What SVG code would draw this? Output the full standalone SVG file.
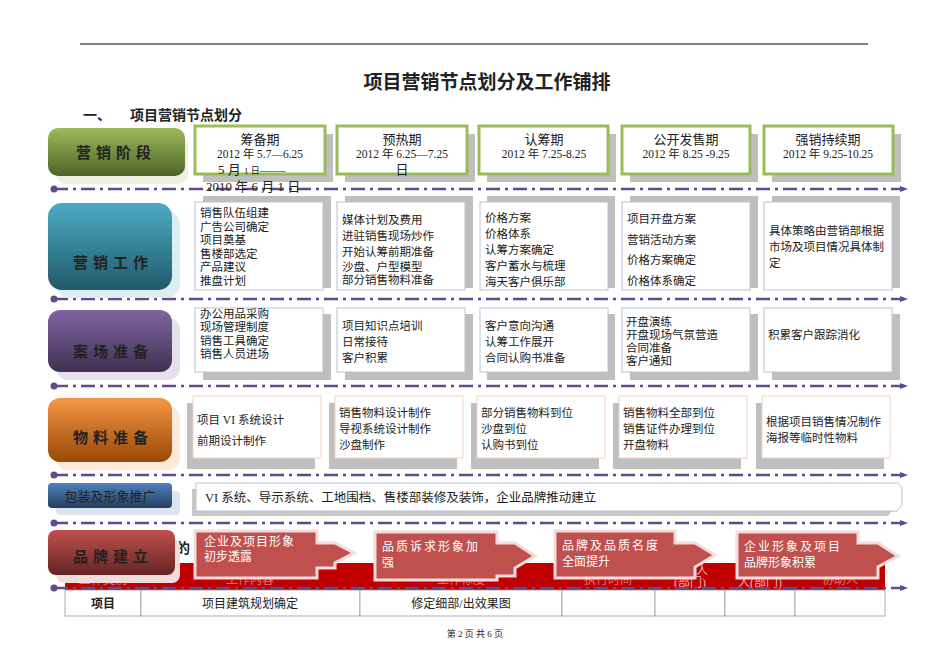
<svg xmlns="http://www.w3.org/2000/svg" width="950" height="672" viewBox="0 0 950 672">
<defs>
<style>
text{font-family:"Liberation Serif","Noto Sans CJK SC",serif;fill:#222}
.t{font-size:11.5px}
.lab{font-size:15px;font-weight:bold;letter-spacing:5px;text-anchor:middle}
.stage{fill:#fff;stroke:#9bbb59;stroke-width:3}
.sh{fill:#bfbfbf}
.box{fill:#fff;stroke:#b8c4d8;stroke-width:1}
.box2{fill:#fff;stroke:#f2d2c0;stroke-width:1}
.dl{stroke:#5f4b8b;stroke-width:2.5;stroke-dasharray:14 5 3 5;fill:none}
.ar{fill:#c0504d;stroke:#f2dcdb;stroke-width:3}
.cell{fill:#fff;stroke:#999;stroke-width:0.8}
.hd{font-size:12px;text-anchor:middle;fill:#e57373}
.bw{font-size:12px;fill:#fff}
</style>
<linearGradient id="g1" x1="0" y1="0" x2="0" y2="1"><stop offset="0" stop-color="#9bbb59"/><stop offset="1" stop-color="#4f6228"/></linearGradient>
<linearGradient id="g2" x1="0" y1="0" x2="0" y2="1"><stop offset="0" stop-color="#4bacc6"/><stop offset="1" stop-color="#215968"/></linearGradient>
<linearGradient id="g3" x1="0" y1="0" x2="0" y2="1"><stop offset="0" stop-color="#8064a2"/><stop offset="1" stop-color="#3f3151"/></linearGradient>
<linearGradient id="g4" x1="0" y1="0" x2="0" y2="1"><stop offset="0" stop-color="#f79646"/><stop offset="1" stop-color="#984807"/></linearGradient>
<linearGradient id="g5" x1="0" y1="0" x2="0" y2="1"><stop offset="0" stop-color="#4f81bd"/><stop offset="1" stop-color="#243f60"/></linearGradient>
<linearGradient id="g6" x1="0" y1="0" x2="0" y2="1"><stop offset="0" stop-color="#c0504d"/><stop offset="1" stop-color="#632523"/></linearGradient>
<marker id="m" markerUnits="userSpaceOnUse" markerWidth="8" markerHeight="8" refX="4" refY="4" orient="auto"><path d="M0,1L8,4L0,7z" fill="#5f4b8b"/></marker>
<marker id="d" markerUnits="userSpaceOnUse" markerWidth="8" markerHeight="8" refX="4" refY="4"><circle cx="4" cy="4" r="3.5" fill="#5f4b8b"/></marker>
</defs>
<rect width="950" height="672" fill="#fff"/>
<line x1="80" y1="44" x2="868" y2="44" stroke="#000" stroke-width="1"/>
<text x="487" y="89" font-size="19" font-weight="bold" text-anchor="middle">项目营销节点划分及工作铺排</text>
<text x="83" y="120" font-size="14" font-weight="bold">一、</text>
<text x="130" y="120" font-size="14" font-weight="bold">项目营销节点划分</text>

<g id="table">
<rect x="65" y="563" width="820" height="27" fill="#c00000"/>
<text class="hd" x="103" y="584">工作类别</text>
<text class="hd" x="250" y="584">工作内容</text>
<text class="hd" x="461" y="584">工作标度</text>
<text class="hd" x="608" y="584">执行时间</text>
<text class="hd" x="690" y="575" font-size="10" style="fill:#f4b0b0">负责人</text>
<text class="hd" x="690" y="587" font-size="10" style="fill:#f4b0b0">(部门)</text>
<text class="hd" x="760" y="587" font-size="10" style="fill:#f4b0b0">人(部门)</text>
<text class="hd" x="840" y="584">协助人</text>
<rect class="cell" x="65" y="590" width="76" height="26"/>
<rect class="cell" x="141" y="590" width="219" height="26"/>
<rect class="cell" x="360" y="590" width="202" height="26"/>
<rect class="cell" x="562" y="590" width="93" height="26"/>
<rect class="cell" x="655" y="590" width="70" height="26"/>
<rect class="cell" x="725" y="590" width="70" height="26"/>
<rect class="cell" x="795" y="590" width="90" height="26"/>
<text x="103" y="608" font-size="12" font-weight="bold" text-anchor="middle">项目</text>
<text x="250" y="608" font-size="12" text-anchor="middle">项目建筑规划确定</text>
<text x="461" y="608" font-size="12" text-anchor="middle">修定细部/出效果图</text>
</g>
<text x="176" y="553" font-size="14" font-weight="bold">的</text>

<g id="connectors">
<line class="dl" x1="54" y1="189" x2="904" y2="189" marker-start="url(#d)" marker-end="url(#m)"/>
<line class="dl" x1="54" y1="299" x2="904" y2="299" marker-start="url(#d)" marker-end="url(#m)"/>
<line class="dl" x1="54" y1="386" x2="904" y2="386" marker-start="url(#d)" marker-end="url(#m)"/>
<line class="dl" x1="54" y1="475" x2="904" y2="475" marker-start="url(#d)" marker-end="url(#m)"/>
<line class="dl" x1="54" y1="523" x2="904" y2="523" marker-start="url(#d)" marker-end="url(#m)"/>
<line class="dl" x1="54" y1="588" x2="904" y2="588" marker-start="url(#d)" marker-end="url(#m)"/>
</g>

<g id="l1"><rect x="56" y="136" width="132" height="48" rx="10" fill="#ebf1de"/><rect x="48" y="128" width="137" height="48" rx="10" fill="url(#g1)"/><text class="lab" x="116" y="158">营销阶段</text></g>
<g id="l2"><rect x="56" y="211" width="124" height="87" rx="14" fill="#daeef3"/><rect x="48" y="203" width="124" height="87" rx="14" fill="url(#g2)"/><text class="lab" x="113" y="268">营销工作</text></g>
<g id="l3"><rect x="56" y="318" width="124" height="62" rx="12" fill="#e5e0ec"/><rect x="48" y="310" width="124" height="62" rx="12" fill="url(#g3)"/><text class="lab" x="113" y="357">案场准备</text></g>
<g id="l4"><rect x="56" y="406" width="124" height="64" rx="12" fill="#fde9d9"/><rect x="48" y="398" width="124" height="64" rx="12" fill="url(#g4)"/><text class="lab" x="113" y="443">物料准备</text></g>
<g id="l5"><rect x="56" y="491" width="124" height="24" rx="4" fill="#dbe5f1"/><rect x="48" y="483" width="124" height="25" rx="4" fill="url(#g5)"/><text x="110" y="501" font-size="13" text-anchor="middle">包装及形象推广</text></g>
<g id="l6"><rect x="56" y="538" width="124" height="45" rx="8" fill="#f2dcdb"/><rect x="48" y="530" width="127" height="45" rx="8" fill="url(#g6)"/><text class="lab" x="113" y="562">品牌建立</text></g>

<g id="s1"><rect class="sh" x="203" y="134" width="130" height="48"/><rect class="stage" x="195" y="126" width="130" height="48"/><text x="260" y="144" font-size="13" text-anchor="middle">筹备期</text><text class="t" x="260" y="158" text-anchor="middle">2012 年 5.7—6.25</text>
<text x="218" y="174" font-size="13">5 月 <tspan font-size="9">1 日</tspan>——</text><text x="206" y="191" font-size="13">2010 年 6 月 1 日</text></g>
<g id="s2"><rect class="sh" x="345" y="134" width="130" height="48"/><rect class="stage" x="337" y="126" width="130" height="48"/><text x="402" y="144" font-size="13" text-anchor="middle">预热期</text><text class="t" x="402" y="158" text-anchor="middle">2012 年 6.25—7.25</text><text x="402" y="174" font-size="13" text-anchor="middle">日</text></g>
<g id="s3"><rect class="sh" x="487" y="134" width="129" height="48"/><rect class="stage" x="479" y="126" width="129" height="48"/><text x="544" y="144" font-size="13" text-anchor="middle">认筹期</text><text class="t" x="544" y="158" text-anchor="middle">2012 年 7.25-8.25</text></g>
<g id="s4"><rect class="sh" x="630" y="134" width="128" height="48"/><rect class="stage" x="622" y="126" width="128" height="48"/><text x="686" y="144" font-size="13" text-anchor="middle">公开发售期</text><text class="t" x="686" y="158" text-anchor="middle">2012 年 8.25 -9.25</text></g>
<g id="s5"><rect class="sh" x="772" y="134" width="129" height="48"/><rect class="stage" x="764" y="126" width="129" height="48"/><text x="828" y="144" font-size="13" text-anchor="middle">强销持续期</text><text class="t" x="828" y="158" text-anchor="middle">2012 年 9.25-10.25</text></g>

<g id="w1"><rect class="sh" x="203" y="196" width="128" height="92"/><rect class="box" x="195" y="202" width="128" height="88"/><text class="t" x="200" y="217">销售队伍组建</text><text class="t" x="200" y="231">广告公司确定</text><text class="t" x="200" y="244">项目奠基</text><text class="t" x="200" y="258">售楼部选定</text><text class="t" x="200" y="271">产品建议</text><text class="t" x="200" y="285">推盘计划</text></g>
<g id="w2"><rect class="sh" x="345" y="196" width="128" height="92"/><rect class="box" x="337" y="202" width="128" height="88"/><text class="t" x="342" y="224">媒体计划及费用</text><text class="t" x="342" y="240">进驻销售现场炒作</text><text class="t" x="342" y="256">开始认筹前期准备</text><text class="t" x="342" y="271">沙盘、户型模型</text><text class="t" x="342" y="284">部分销售物料准备</text></g>
<g id="w3"><rect class="sh" x="487" y="196" width="128" height="92"/><rect class="box" x="480" y="202" width="128" height="88"/><text class="t" x="485" y="222">价格方案</text><text class="t" x="485" y="238">价格体系</text><text class="t" x="485" y="254">认筹方案确定</text><text class="t" x="485" y="270">客户蓄水与梳理</text><text class="t" x="485" y="286">海天客户俱乐部</text></g>
<g id="w4"><rect class="sh" x="630" y="196" width="128" height="92"/><rect class="box" x="622" y="202" width="128" height="88"/><text class="t" x="627" y="223">项目开盘方案</text><text class="t" x="627" y="244">营销活动方案</text><text class="t" x="627" y="264">价格方案确定</text><text class="t" x="627" y="285">价格体系确定</text></g>
<g id="w5"><rect class="sh" x="772" y="196" width="128" height="92"/><rect class="box" x="764" y="202" width="128" height="88"/><text class="t" x="769" y="235">具体策略由营销部根据</text><text class="t" x="769" y="251">市场及项目情况具体制</text><text class="t" x="769" y="267">定</text></g>

<g id="c1"><rect class="sh" x="203" y="314" width="128" height="66"/><rect class="box" x="195" y="308" width="128" height="64"/><text class="t" x="200" y="318">办公用品采购</text><text class="t" x="200" y="331">现场管理制度</text><text class="t" x="200" y="345">销售工具确定</text><text class="t" x="200" y="358">销售人员进场</text></g>
<g id="c2"><rect class="sh" x="345" y="314" width="128" height="66"/><rect class="box" x="337" y="308" width="128" height="64"/><text class="t" x="342" y="330">项目知识点培训</text><text class="t" x="342" y="346">日常接待</text><text class="t" x="342" y="362">客户积累</text></g>
<g id="c3"><rect class="sh" x="487" y="314" width="128" height="66"/><rect class="box" x="480" y="308" width="128" height="64"/><text class="t" x="485" y="330">客户意向沟通</text><text class="t" x="485" y="346">认筹工作展开</text><text class="t" x="485" y="362">合同认购书准备</text></g>
<g id="c4"><rect class="sh" x="630" y="314" width="128" height="66"/><rect class="box" x="622" y="308" width="128" height="64"/><text class="t" x="626" y="326">开盘演练</text><text class="t" x="626" y="339">开盘现场气氛营造</text><text class="t" x="626" y="352">合同准备</text><text class="t" x="626" y="365">客户通知</text></g>
<g id="c5"><rect class="sh" x="772" y="314" width="128" height="66"/><rect class="box" x="764" y="308" width="128" height="64"/><text class="t" x="768" y="339">积累客户跟踪消化</text></g>

<g id="m1"><rect class="sh" x="187" y="403" width="128" height="66"/><rect class="box2" x="193" y="396" width="128" height="62"/><text class="t" x="197" y="424">项目 VI 系统设计</text><text class="t" x="197" y="445">前期设计制作</text></g>
<g id="m2"><rect class="sh" x="329" y="403" width="128" height="66"/><rect class="box2" x="335" y="396" width="128" height="62"/><text class="t" x="339" y="417">销售物料设计制作</text><text class="t" x="339" y="433">导视系统设计制作</text><text class="t" x="339" y="449">沙盘制作</text></g>
<g id="m3"><rect class="sh" x="471" y="403" width="128" height="66"/><rect class="box2" x="477" y="396" width="128" height="62"/><text class="t" x="481" y="417">部分销售物料到位</text><text class="t" x="481" y="433">沙盘到位</text><text class="t" x="481" y="449">认购书到位</text></g>
<g id="m4"><rect class="sh" x="613" y="403" width="128" height="66"/><rect class="box2" x="619" y="396" width="128" height="62"/><text class="t" x="623" y="417">销售物料全部到位</text><text class="t" x="623" y="433">销售证件办理到位</text><text class="t" x="623" y="449">开盘物料</text></g>
<g id="m5"><rect class="sh" x="756" y="403" width="128" height="66"/><rect class="box2" x="762" y="396" width="128" height="62"/><text class="t" x="766" y="426">根据项目销售情况制作</text><text class="t" x="766" y="442">海报等临时性物料</text></g>

<g id="pack"><path d="M192,489 H895 V507 L888,516 H192z" fill="#c8c8c8"/><path d="M196,483 H898 L902,488 V505 L897,511 H196z" fill="#fff" stroke="#b8c4d8"/><text x="205" y="502" font-size="12.5">VI 系统、导示系统、工地围档、售楼部装修及装饰，企业品牌推动建立</text></g>

<g id="b1"><path class="ar" d="M195,531 H317 V543 H335 L354,553 L335,563 V568 H317 V578 H195z"/><text class="bw" x="204" y="546" letter-spacing="1">企业及项目形象</text><text class="bw" x="204" y="561">初步透露</text></g>
<g id="b2"><path class="ar" d="M375,532 H497 V543 H515 L535,556 L515,568 V576 H497 V580 H375z"/><text class="bw" x="382" y="551" letter-spacing="2">品质诉求形象加</text><text class="bw" x="382" y="567">强</text></g>
<g id="b3"><path class="ar" d="M555,531 H675 V543 H695 L715,555 L695,567 V578 H555z"/><text class="bw" x="562" y="550" letter-spacing="2">品牌及品质名度</text><text class="bw" x="562" y="566">全面提升</text></g>
<g id="b4"><path class="ar" d="M737,532 H858 V543 H878 L898,556 L878,567 V578 H737z"/><text class="bw" x="744" y="551" letter-spacing="2">企业形象及项目</text><text class="bw" x="744" y="567">品牌形象积累</text></g>

<text x="475" y="637" font-size="9" text-anchor="middle">第 2 页 共 6 页</text>
</svg>
